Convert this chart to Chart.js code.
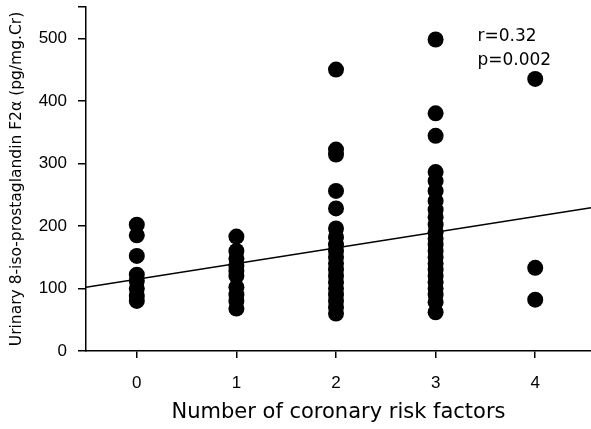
<!DOCTYPE html>
<html lang="en">
<head>
    <meta charset="UTF-8">
    <title>Urinary 8-iso-prostaglandin F2a vs coronary risk factors</title>
    <script src="https://cdn.jsdelivr.net/npm/chart.js"></script>
    <style>
        body, html {
            margin: 0;
            padding: 0;
            width: 591px;
            height: 429px;
            overflow: hidden;
            background: #fff;
        }
        #wrap { width: 591px; height: 429px; }
    </style>
</head>
<body>
    <div id="wrap"><canvas id="isoChart"></canvas></div>

    <script>
        // values per number of risk factors (pg/mg.Cr)
        const risk0 = [202, 185, 152, 122, 112, 100, 88, 80];
        const risk1 = [183, 160, 148, 136, 128, 120, 102, 90, 80, 68];
        const risk2 = [450, 322, 314, 256, 228, 196, 182, 170, 160, 150, 140, 130, 120, 110, 100, 90, 80, 70, 60];
        const risk3 = [498, 380, 344, 286, 272, 256, 240, 226, 214, 202, 190, 180, 170, 160, 150, 140, 130, 120, 110, 100, 90, 78, 62];
        const risk4 = [435, 133, 82];
        const groups = [risk0, risk1, risk2, risk3, risk4];
        const xTicks = [0, 1, 2, 3, 4];
        const yTicks = [0, 100, 200, 300, 400, 500];
        const yTop = 550; // unlabelled tick at the top of the axis

        // regression line end points
        const fitX = [-0.51, 4.56];
        const fitY = [102, 229];

        const stats = ['r=0.32', 'p=0.002'];

        const points = [];
        groups.forEach((g, i) => g.forEach(v => points.push({ x: xTicks[i], y: v })));

        const statsText = {
            id: 'statsText',
            afterDatasetsDraw(chart) {
                const { ctx, scales } = chart;
                ctx.save();
                ctx.fillStyle = '#000';
                ctx.font = '17px "DejaVu Sans", sans-serif';
                ctx.textBaseline = 'middle';
                ctx.fillText(stats[0], scales.x.getPixelForValue(3.42), scales.y.getPixelForValue(502));
                ctx.fillText(stats[1], scales.x.getPixelForValue(3.42), scales.y.getPixelForValue(464));
                ctx.restore();
            }
        };

        const ctx = document.getElementById('isoChart').getContext('2d');
        new Chart(ctx, {
            type: 'scatter',
            data: {
                datasets: [{
                    data: points,
                    backgroundColor: '#000',
                    borderColor: '#000',
                    pointRadius: 8,
                    pointHoverRadius: 8,
                    borderWidth: 0
                }, {
                    type: 'line',
                    data: fitX.map((x, i) => ({ x: x, y: fitY[i] })),
                    borderColor: '#000',
                    borderWidth: 1.5,
                    pointRadius: 0,
                    fill: false
                }]
            },
            options: {
                responsive: true,
                maintainAspectRatio: false,
                animation: false,
                layout: { autoPadding: false, padding: { top: 7, right: 0, left: 0, bottom: 0 } },
                plugins: { legend: { display: false }, tooltip: { enabled: false } },
                scales: {
                    x: {
                        type: 'linear',
                        min: -0.51,
                        max: 4.56,
                        afterBuildTicks: (s) => { s.ticks = xTicks.map(v => ({ value: v })); },
                        afterFit: (s) => { s.height = 78; s.paddingLeft = 0; s.paddingRight = 0; },
                        border: { color: '#000', width: 1.5 },
                        grid: { drawOnChartArea: false, color: '#000', tickLength: 7, lineWidth: 1.5 },
                        ticks: { color: '#000', padding: 15, font: { family: '"Liberation Sans", Arial, sans-serif', size: 17 } },
                        title: {
                            display: true,
                            text: 'Number of coronary risk factors',
                            color: '#000',
                            padding: { top: 0 },
                            font: { family: '"DejaVu Sans", sans-serif', size: 21 }
                        }
                    },
                    y: {
                        min: 0,
                        max: yTop,
                        afterBuildTicks: (s) => { s.ticks = yTicks.concat([yTop]).map(v => ({ value: v })); },
                        afterFit: (s) => { s.width = 86; s.paddingTop = 0; s.paddingBottom = 0; },
                        border: { color: '#000', width: 1.5 },
                        grid: { drawOnChartArea: false, color: '#000', tickLength: 8, lineWidth: 1.5 },
                        ticks: {
                            color: '#000',
                            padding: 11,
                            callback: (v) => (v === yTop ? '' : v),
                            font: { family: '"Liberation Sans", Arial, sans-serif', size: 17 }
                        },
                        title: {
                            display: true,
                            text: 'Urinary 8-iso-prostaglandin F2\u03b1 (pg/mg.Cr)',
                            color: '#000',
                            padding: { top: 8, bottom: 0 },
                            font: { family: '"DejaVu Sans", sans-serif', size: 15.5 }
                        }
                    }
                }
            },
            plugins: [statsText]
        });
    </script>
</body>
</html>
